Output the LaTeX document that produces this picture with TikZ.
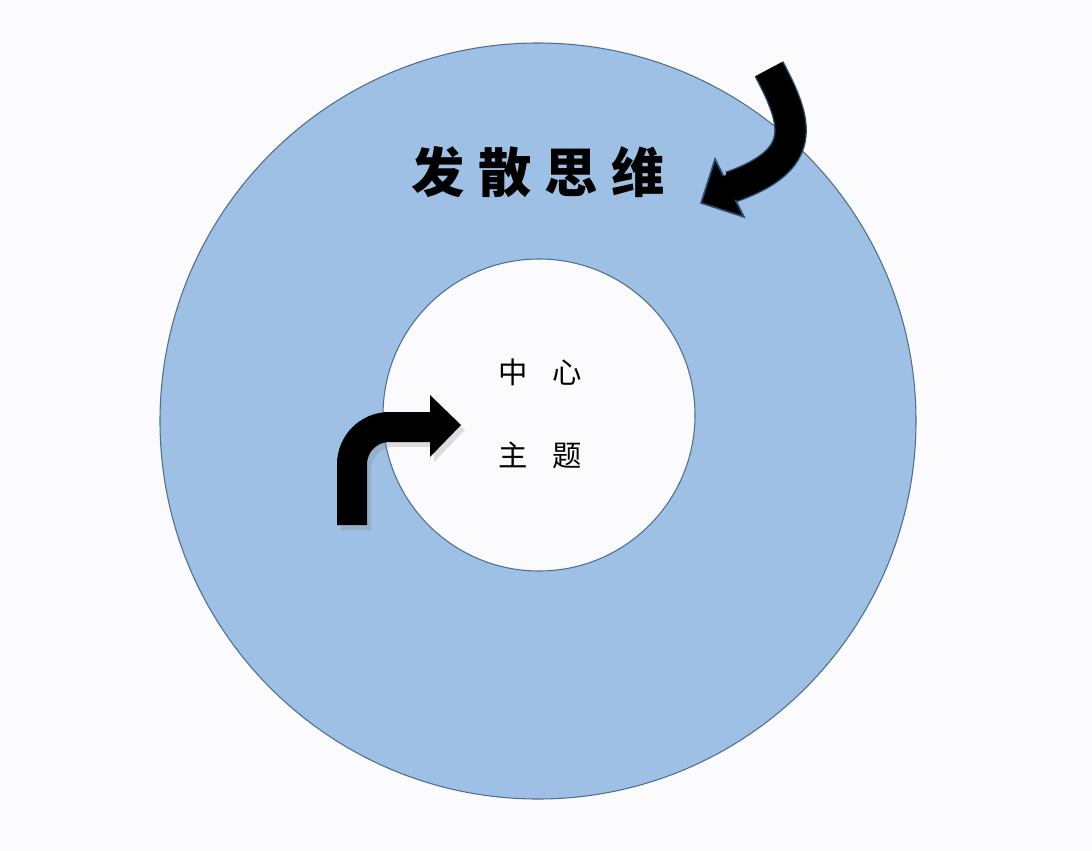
\documentclass[tikz,border=0pt]{standalone}
\usepackage{fontspec}
\newfontfamily\cjk{Noto Sans CJK SC}
\usetikzlibrary{calc}
\definecolor{bgc}{HTML}{FBFBFD}
\definecolor{ringc}{HTML}{9DC0E4}
\definecolor{ringb}{HTML}{4F6F92}
\definecolor{arrowb}{HTML}{2F4F78}
\tikzset{
  ring/.style={draw=ringb, line width=0.8pt},
  bigtitle/.style={font=\cjk\fontsize{40}{42}\selectfont\bfseries, inner sep=0pt},
  smalltitle/.style={font=\cjk\fontsize{22}{24}\selectfont, inner sep=0pt},
  arrowshaft/.style={line width=22.5pt, black},
}
\begin{document}
\begin{tikzpicture}[x=0.75pt, y=-0.75pt]
\fill[bgc] (0,0) rectangle (1092,850);
\useasboundingbox (0,0) rectangle (1092,850);
% rings
\node[ring, circle, fill=ringc, minimum size=756*0.75pt, inner sep=0pt] (outer) at (538,421) {};
\node[ring, circle, fill=bgc, minimum size=312*0.75pt, inner sep=0pt] (inner) at (539,415) {};
% title
\node[bigtitle] (title) at (538,172) {发\hspace{10pt}散\hspace{10pt}思\hspace{10pt}维};
% centre text
\node[smalltitle] (c1) at (540,372) {中\hspace{18pt}心};
\node[smalltitle] (c2) at (540,455) {主\hspace{18pt}题};
% upper right curved arrow
\coordinate (a1s) at (769,69);
\coordinate (a1e) at (731,187);
\draw[line width=24.5pt, arrowb] (a1s) .. controls (799,125) and (807,160) .. (a1e);
\draw[arrowshaft] (a1s) .. controls (799,125) and (807,160) .. (a1e);
\filldraw[fill=black, draw=arrowb, line width=1.2pt, line join=miter] (715,159) -- (744,217) -- (701,203) -- cycle;
\fill[black] (a1e) circle (10pt);
% lower left bent arrow with shadow
\begin{scope}[opacity=0.25, shift={(4,5)}]
\draw[line width=22.5pt, gray, rounded corners=28pt] (352,525) -- (352,427) -- (432,427);
\fill[gray] (430,395) -- (461,425) -- (430,457) -- cycle;
\end{scope}
\coordinate (b1s) at (352,525);
\coordinate (b1c) at (352,427);
\coordinate (b1e) at (432,427);
\draw[arrowshaft, rounded corners=28pt] (b1s) -- (b1c) -- (b1e);
\fill[black] (430,395) -- (461,425) -- (430,457) -- cycle;
\end{tikzpicture}
\end{document}
